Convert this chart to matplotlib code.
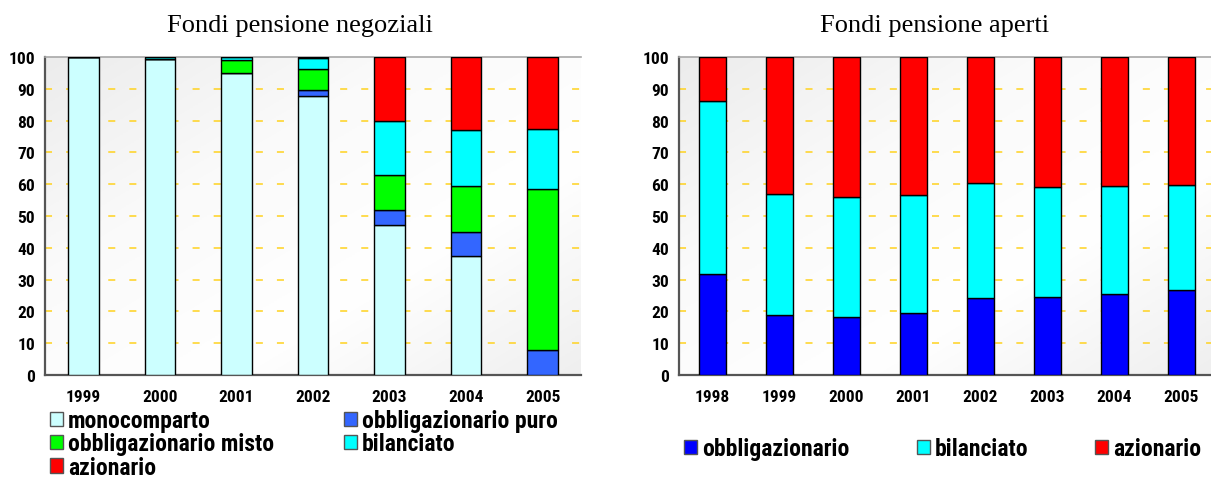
import numpy as np
import matplotlib
matplotlib.use("Agg")
import matplotlib.pyplot as plt
from matplotlib.patches import Patch
from matplotlib.colors import LinearSegmentedColormap

# --- data: Fondi pensione negoziali ---
years_neg = ['1999', '2000', '2001', '2002', '2003', '2004', '2005']
mono = [100, 99.4, 95.0, 87.7, 47.3, 37.5, 0.0]
obb_puro = [0, 0, 0, 1.8, 4.7, 7.5, 7.8]
obb_misto = [0, 0, 4.2, 6.7, 11.0, 14.4, 50.8]
bil_neg = [0, 0.6, 0.8, 3.5, 16.8, 17.5, 18.9]
az_neg = [0, 0, 0, 0.3, 20.2, 23.1, 22.5]

# --- data: Fondi pensione aperti ---
years_ap = ['1998', '1999', '2000', '2001', '2002', '2003', '2004', '2005']
obb_ap = [31.7, 19.0, 18.1, 19.4, 24.1, 24.5, 25.6, 26.6]
bil_ap = [54.6, 37.9, 37.9, 37.1, 36.2, 34.6, 33.8, 33.1]
az_ap = [13.7, 43.1, 44.0, 43.5, 39.7, 40.9, 40.6, 40.3]

C_MONO = '#CCFFFF'
C_PURO = '#3366FF'
C_MISTO = '#00FF00'
C_BIL = '#00FFFF'
C_AZ = '#FF0000'
C_OBB = '#0000FF'

LBL = ['Roboto Condensed', 'Liberation Sans']
TTL = ['Liberation Serif']

W, H = 1211, 481
fig = plt.figure(figsize=(W / 100, H / 100), dpi=100)

bg = LinearSegmentedColormap.from_list('bg', ['#ececec', '#fafafa', '#ffffff', '#efefef'])


def style_axes(ax, right):
    # gradient background
    xx, yy = np.meshgrid(np.linspace(0, 1, 200), np.linspace(0, 1, 200))
    grad = (xx + yy) / 2
    ax.imshow(grad, cmap=bg, extent=[0, 1, 0, 1], transform=ax.transAxes,
              aspect='auto', zorder=0, origin='upper')
    ax.set_ylim(0, 100)
    ax.set_xlim(-0.5, right)
    ax.set_yticks(range(0, 101, 10))
    for y in range(10, 100, 10):
        ax.axhline(y, color='#FFD21F', lw=1.1, ls=(0, (4.6, 9.2)), zorder=1)
    ax.spines['right'].set_visible(False)
    ax.spines['top'].set_color('#a8a8a8')
    ax.spines['top'].set_linewidth(1.2)
    for s in ('left', 'bottom'):
        ax.spines[s].set_color('#555555')
        ax.spines[s].set_linewidth(1.6)
    ax.tick_params(length=0)
    ax.tick_params(axis='y', pad=7)
    ax.tick_params(axis='x', pad=10)
    for t in ax.get_yticklabels() + ax.get_xticklabels():
        t.set_fontfamily(LBL)
        t.set_fontweight('bold')
        t.set_fontsize(12.5)


def stack(ax, x, series, colors, width):
    bottom = np.zeros(len(x))
    for vals, col in zip(series, colors):
        vals = np.array(vals, dtype=float)
        ax.bar(x, vals, width, bottom=bottom, color=col, edgecolor='black',
               linewidth=1.0, zorder=3)
        bottom += vals


# left chart
ax1 = fig.add_axes([45 / W, 1 - 376 / H, 536 / W, 318 / H])
x1 = np.arange(len(years_neg))
stack(ax1, x1, [mono, obb_puro, obb_misto, bil_neg, az_neg],
      [C_MONO, C_PURO, C_MISTO, C_BIL, C_AZ], 0.40)
ax1.set_xticks(x1)
ax1.set_xticklabels(years_neg)
style_axes(ax1, 6.5)

# right chart
ax2 = fig.add_axes([679 / W, 1 - 376 / H, 532 / W, 318 / H])
x2 = np.arange(len(years_ap))
stack(ax2, x2, [obb_ap, bil_ap, az_ap], [C_OBB, C_BIL, C_AZ], 0.40)
ax2.set_xticks(x2)
ax2.set_xticklabels(years_ap)
style_axes(ax2, 7.44)

fig.text(300 / W, 1 - 26 / H, 'Fondi pensione negoziali', family=TTL,
         fontsize=19, ha='center', va='center')
fig.text(935 / W, 1 - 26 / H, 'Fondi pensione aperti', family=TTL,
         fontsize=19, ha='center', va='center')


# legends
def patch(c, label):
    return Patch(facecolor=c, edgecolor='#555555', linewidth=1.0, label=label)

lprop = {'family': LBL, 'weight': 'bold', 'size': 17}
h1 = [patch(C_MONO, 'monocomparto'), patch(C_MISTO, 'obbligazionario misto'),
      patch(C_AZ, 'azionario'), patch(C_PURO, 'obbligazionario puro'),
      patch(C_BIL, 'bilanciato')]
fig.legend(handles=h1, ncol=2, loc='upper left',
           bbox_to_anchor=(50 / W, 1 - 410 / H), frameon=False, prop=lprop,
           handlelength=0.55, handleheight=0.55, handletextpad=0.21,
           labelspacing=0.02, columnspacing=2.95, borderpad=0, borderaxespad=0)

h2 = [patch(C_OBB, 'obbligazionario'), patch(C_BIL, 'bilanciato'),
      patch(C_AZ, 'azionario')]
fig.legend(handles=h2, ncol=3, loc='upper left',
           bbox_to_anchor=(684 / W, 1 - 438 / H), frameon=False, prop=lprop,
           handlelength=0.55, handleheight=0.55, handletextpad=0.21,
           columnspacing=2.85, borderpad=0, borderaxespad=0)

fig.savefig('out.png', dpi=100)
